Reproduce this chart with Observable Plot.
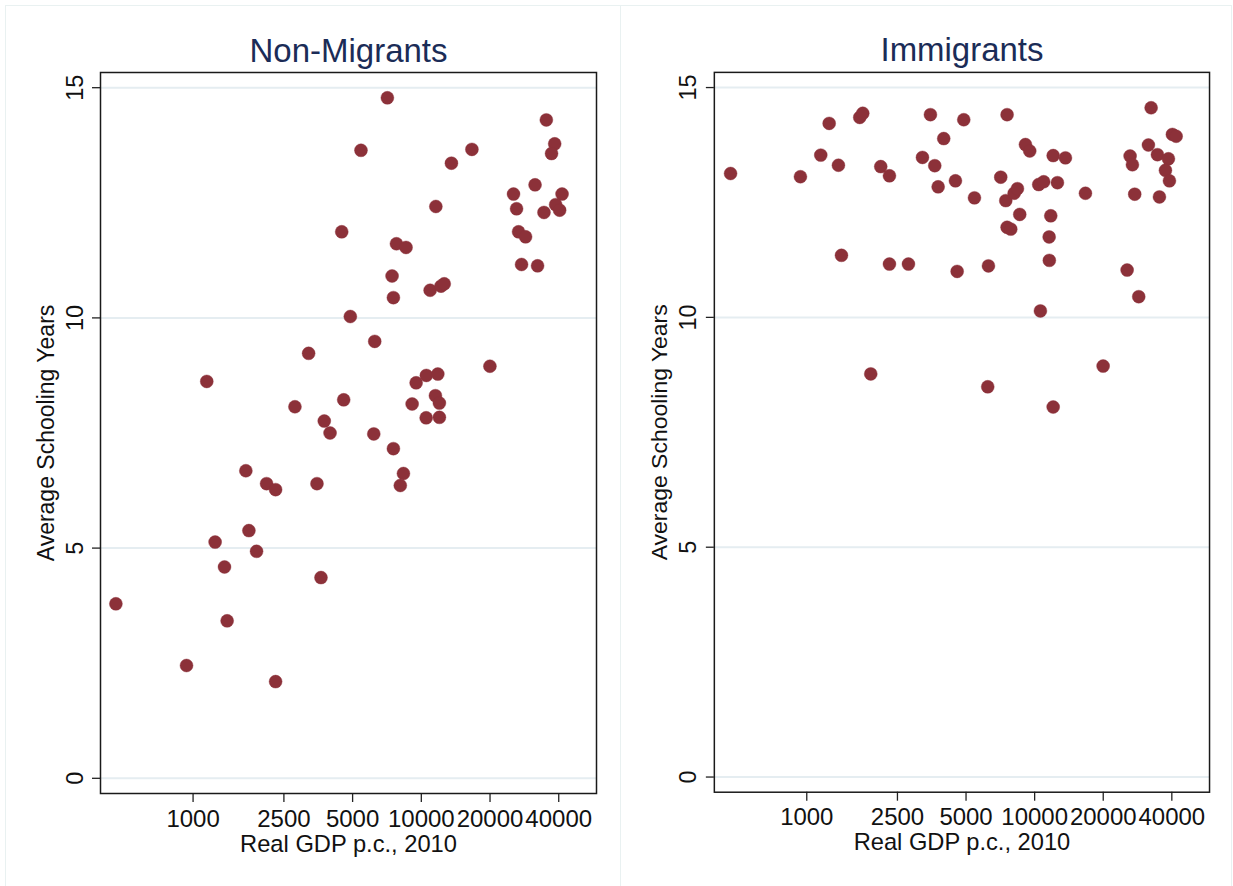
<!DOCTYPE html>
<html>
<head>
<meta charset="utf-8">
<script src="https://cdn.jsdelivr.net/npm/d3@7"></script>
<script src="https://cdn.jsdelivr.net/npm/@observablehq/plot@0.6"></script>
<style>
  html, body { margin: 0; padding: 0; background: #ffffff; }
  #wrap { position: relative; width: 1233px; height: 886px; overflow: hidden; background: #ffffff; }
  .panel { position: absolute; top: 0; }
  .border { position: absolute; border: 1.5px solid #e9f1f1; box-sizing: border-box; }
  .vline { position: absolute; width: 1.5px; background: #e9f1f1; }
</style>
</head>
<body>
<div id="wrap">
  <div class="border" style="left:5px; top:5px; width:1227px; height:900px;"></div>
  <div class="vline" style="left:619.5px; top:5px; height:900px;"></div>
  <div class="panel" id="left" style="left:0px;"></div>
  <div class="panel" id="right" style="left:614px;"></div>
</div>
<script>
// ---- data ----
const xTicks = [1000, 2500, 5000, 10000, 20000, 40000];
const yTicks = [0, 5, 10, 15];
const panelTitles = ["Non-Migrants", "Immigrants"];
const xLabel = "Real GDP p.c., 2010";
const yLabel = "Average Schooling Years";

const gdpNonMigrants = [7100, 35300, 38400, 37200, 5440, 16660, 13550, 31500, 25350, 41360,
  26140, 11580, 38770, 40360, 34470, 4480, 26670, 28630, 7780, 8570,
  27490, 32310, 7445, 10930, 12200, 12600, 7545, 4886, 6250, 3208,
  1148, 19980, 9490, 10520, 11810, 11530, 12000, 9115, 10500, 12000,
  4570, 2794, 3757, 3982, 6190, 7545, 1703, 2099, 2299, 3490,
  8350, 8090, 1756, 1249, 1897, 1373, 3634, 459, 1410, 936, 2299];
const schoolNonMigrants = [14.78, 14.30, 13.78, 13.57, 13.64, 13.66, 13.36, 12.89, 12.69, 12.69,
  12.37, 12.42, 12.46, 12.34, 12.29, 11.87, 11.87, 11.76, 11.61, 11.53,
  11.16, 11.13, 10.91, 10.60, 10.69, 10.74, 10.44, 10.03, 9.49, 9.23,
  8.62, 8.95, 8.59, 8.75, 8.78, 8.31, 8.15, 8.13, 7.83, 7.84,
  8.22, 8.07, 7.76, 7.50, 7.48, 7.16, 6.68, 6.40, 6.27, 6.40,
  6.62, 6.36, 5.38, 5.13, 4.93, 4.59, 4.36, 3.79, 3.42, 2.45, 2.10];

const gdpImmigrants = [463, 938, 1152, 1254, 1377, 1420, 1708, 1761, 2112, 2306,
  2306, 2794, 3489, 3219, 3645, 3991, 3772, 4492, 4886, 4570,
  5444, 6270, 7100, 7570, 7470, 8130, 8405, 7570, 7855, 8603,
  9112, 9517, 10420, 10960, 12060, 12590, 13650, 11770, 11580, 11600,
  10600, 16710, 25460, 26240, 26860, 27490, 28630, 32450, 31570, 34580,
  35290, 38650, 37500, 39040, 40230, 41780, 1909, 6225, 19980, 12060];
const schoolImmigrants = [13.13, 13.06, 13.53, 14.22, 13.31, 11.35, 14.35, 14.44, 13.28, 13.08,
  11.16, 11.16, 14.41, 13.48, 13.30, 13.89, 12.84, 12.97, 14.30, 11.00,
  12.60, 11.12, 13.05, 14.41, 12.54, 12.70, 12.80, 11.96, 11.92, 12.24,
  13.76, 13.62, 12.89, 12.95, 13.52, 12.93, 13.47, 12.21, 11.75, 11.24,
  10.14, 12.70, 11.03, 13.51, 13.32, 12.68, 10.45, 14.56, 13.75, 13.54,
  12.62, 13.45, 13.20, 12.97, 13.98, 13.94, 8.77, 8.49, 8.94, 8.05];

// ---- style ----
const dotColor = "#8c3139";
const gridColor = "#e5edf1";
const titleColor = "#1b2c57";
const fontFamily = "'Liberation Sans', Arial, Helvetica, sans-serif";

function panel(title, gdp, school) {
  const data = gdp.map((g, i) => ({gdp: g, school: school[i]}));
  return Plot.plot({
    width: 620,
    height: 886,
    marginLeft: 100,
    marginRight: 24,
    marginTop: 72,
    marginBottom: 93,
    style: {fontFamily, background: "transparent", overflow: "visible", color: "#111"},
    x: {type: "log", domain: [393, 58550]},
    y: {domain: [-0.33, 15.33]},
    marks: [
      Plot.ruleY(yTicks, {stroke: gridColor, strokeWidth: 2}),
      Plot.axisX({ticks: xTicks, tickSize: 9, tickPadding: 7, fontSize: 24, tickFormat: d => String(d), label: null, stroke: "#222", strokeWidth: 1.3}),
      Plot.axisY({ticks: yTicks, tickSize: 8, tickFormat: () => "", label: null, stroke: "#222", strokeWidth: 1.3}),
      Plot.text(yTicks, {y: d => d, text: d => String(d), frameAnchor: "left", rotate: -90, dx: -18, lineAnchor: "bottom", textAnchor: "middle", fontSize: 23.5, fill: "#111"}),
      Plot.text([title], {text: d => d, frameAnchor: "top", dy: -11, lineAnchor: "bottom", fontSize: 33, fill: titleColor}),
      Plot.text([yLabel], {text: d => d, frameAnchor: "left", rotate: -90, dx: -47, lineAnchor: "bottom", textAnchor: "middle", fontSize: 23, fill: "#111"}),
      Plot.text([xLabel], {text: d => d, frameAnchor: "bottom", dy: 58, lineAnchor: "bottom", fontSize: 23.7, fill: "#111"}),
      Plot.frame({stroke: "#1a1a1a", strokeWidth: 1.5}),
      Plot.dot(data, {x: "gdp", y: "school", r: 6.5, fill: dotColor, stroke: dotColor, strokeWidth: 0.4})
    ]
  });
}

document.getElementById("left").append(panel(panelTitles[0], gdpNonMigrants, schoolNonMigrants));
document.getElementById("right").append(panel(panelTitles[1], gdpImmigrants, schoolImmigrants));
</script>
</body>
</html>
